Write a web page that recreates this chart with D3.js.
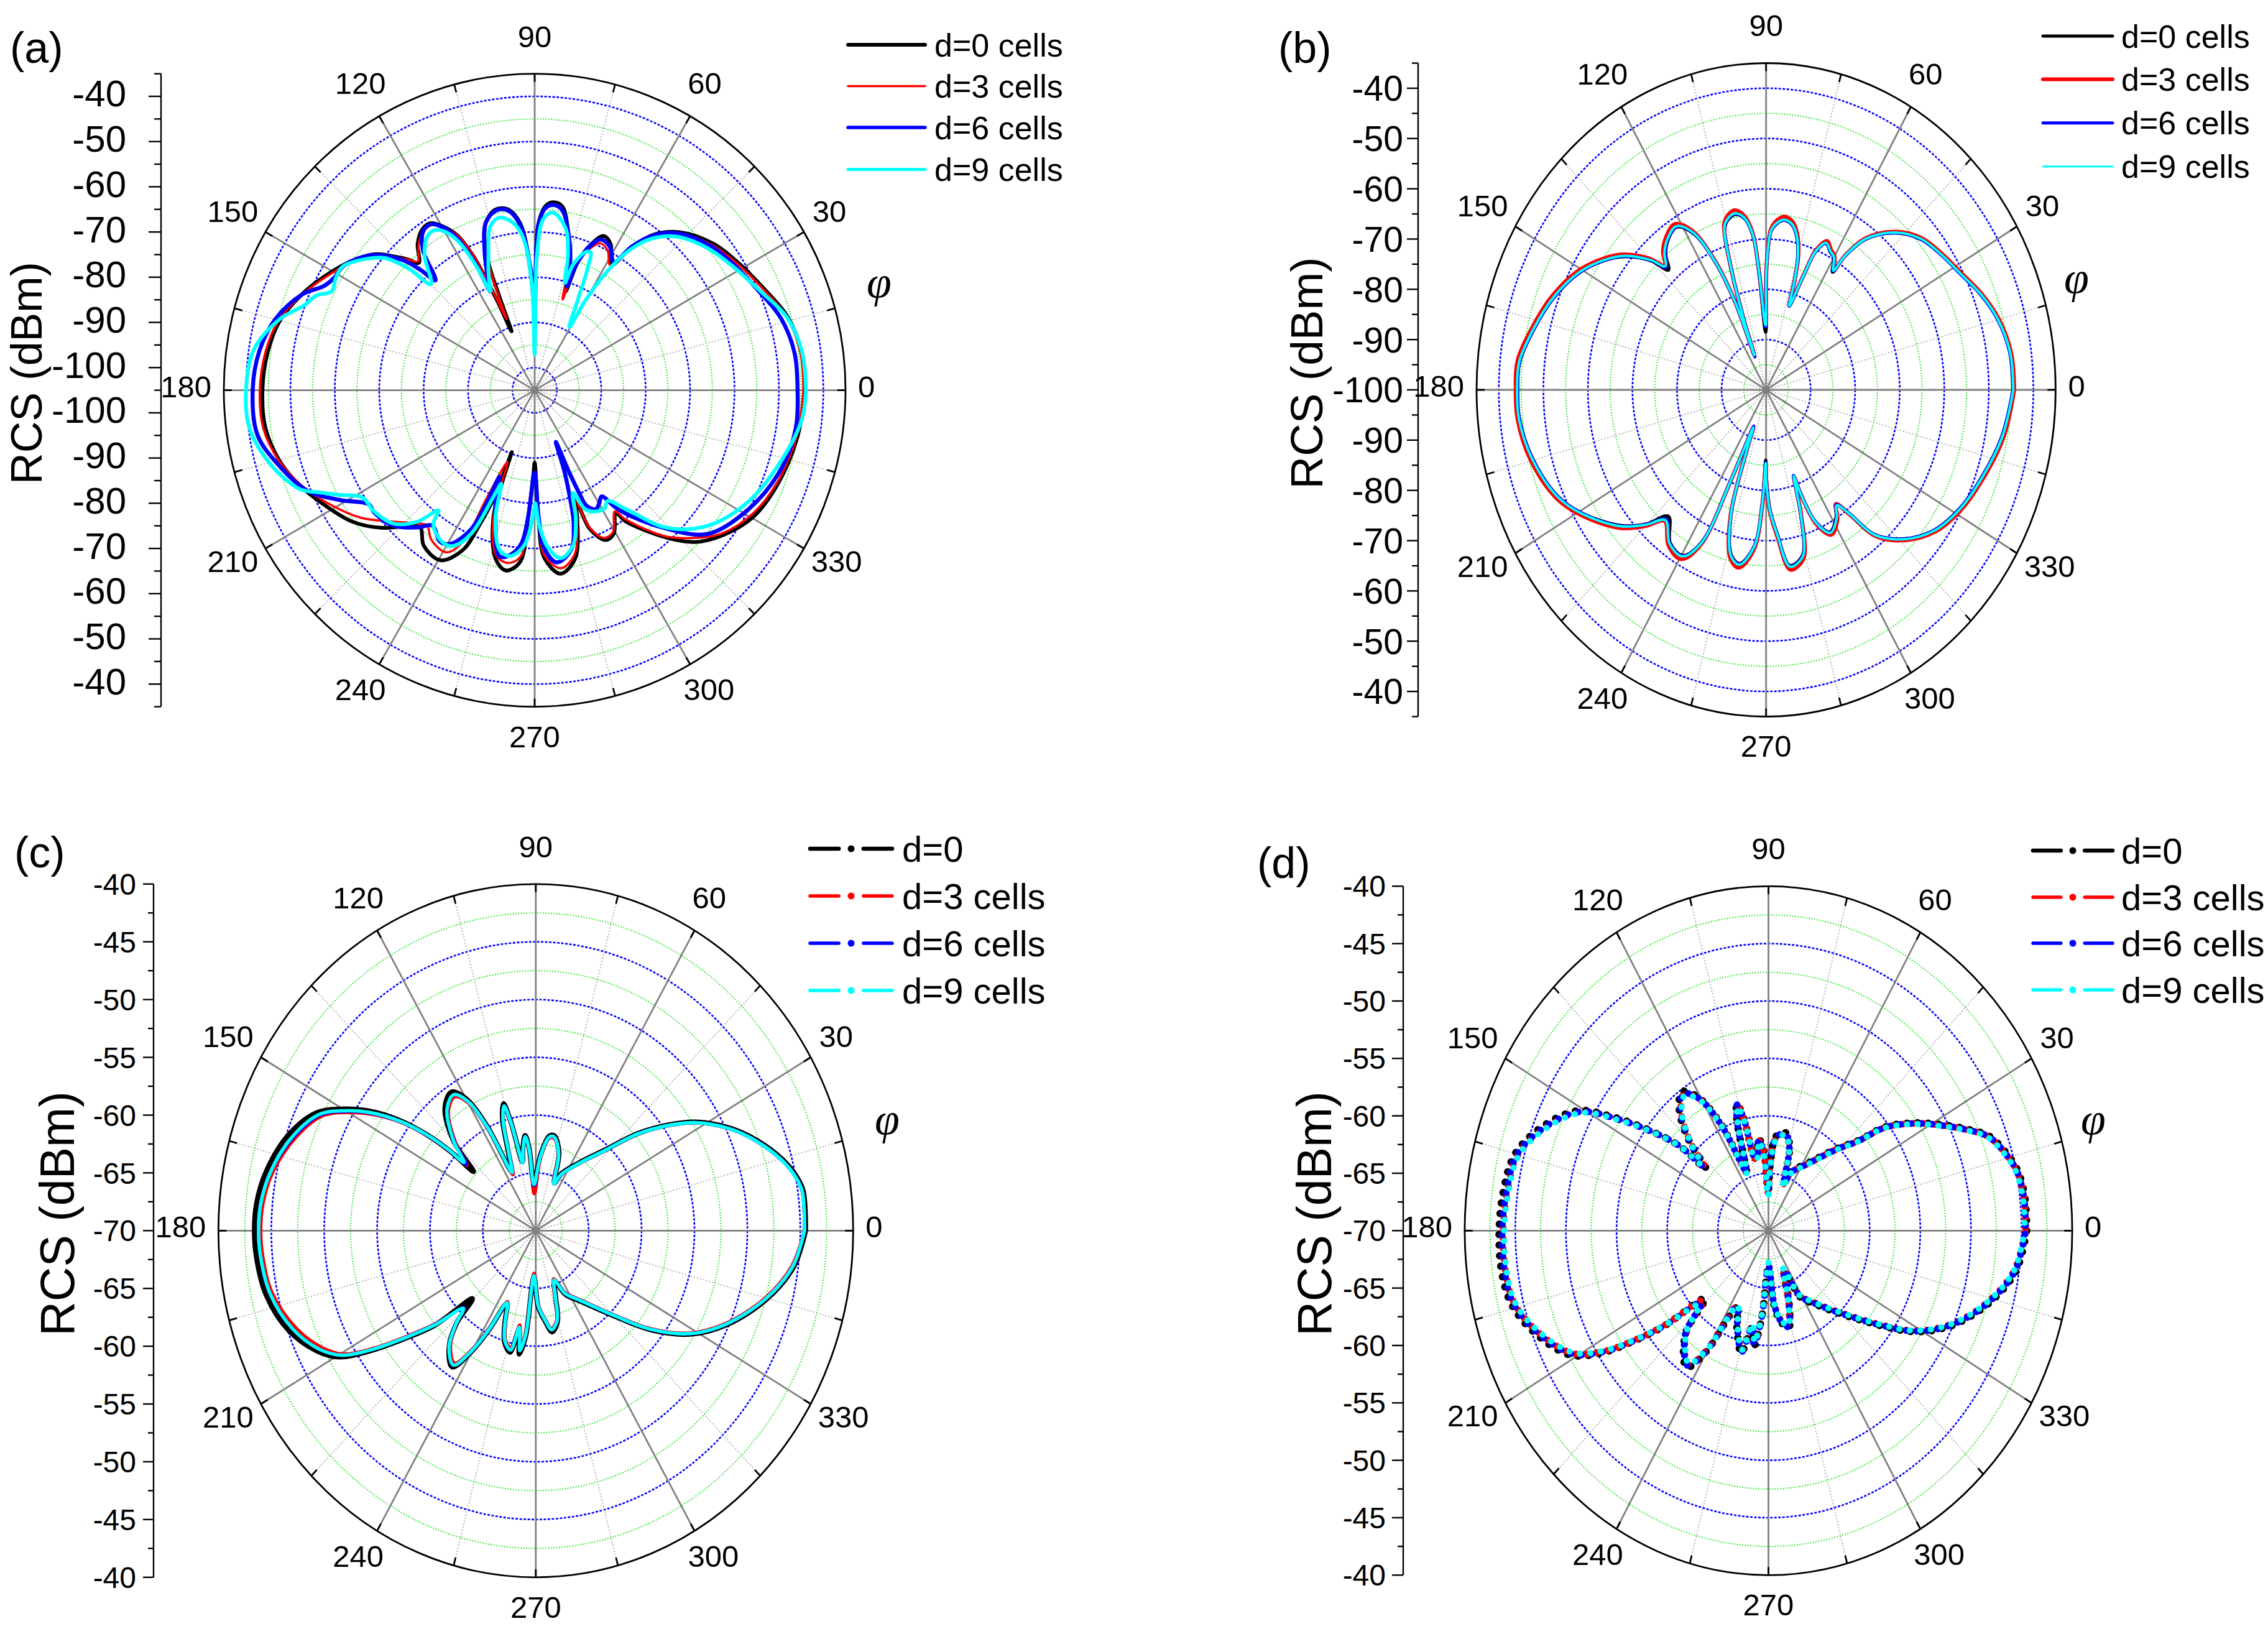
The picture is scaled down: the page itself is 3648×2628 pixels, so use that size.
<!DOCTYPE html>
<html><head><meta charset="utf-8">
<script src="https://cdn.jsdelivr.net/npm/d3@7"></script>
<style>body{margin:0;background:#fff}</style>
</head><body>
<svg id="chart" width="3648" height="2628" xmlns="http://www.w3.org/2000/svg"></svg>
<script>
// ---------------- DATA ----------------
const seriesNamesAB = ["d=0 cells","d=3 cells","d=6 cells","d=9 cells"];
const seriesNamesCD = ["d=0","d=3 cells","d=6 cells","d=9 cells"];
const seriesColors = ["#000000","#ff0000","#0000ff","#00ffff"];
const panelLetters = ["(a)","(b)","(c)","(d)"];
const angleTicks = [0,30,60,90,120,150,180,210,240,270,300,330];
const angleMinor = [15,45,75,105,135,165,195,225,255,285,315,345];
const axisTitle = "RCS (dBm)";
const angleTitle = "\u03C6";

const radialDomainA = [-105,-35];
const radialTicksA = [-100,-90,-80,-70,-60,-50,-40];
const radialMinorA = [-105,-95,-85,-75,-65,-55,-45,-35];
const blueRingsA = [-100,-90,-80,-70,-60,-50,-40];
const greenRingsA = [-95,-85,-75,-65,-55,-45];

const radialDomainB = [-100,-35];
const radialTicksB = [-100,-90,-80,-70,-60,-50,-40];
const radialMinorB = [-95,-85,-75,-65,-55,-45,-35];
const blueRingsB = [-90,-80,-70,-60,-50,-40];
const greenRingsB = [-95,-85,-75,-65,-55,-45];

const radialDomainCD = [-70,-40];
const radialTicksCD = [-70,-65,-60,-55,-50,-45,-40];
const radialMinorCD = [-67.5,-62.5,-57.5,-52.5,-47.5,-42.5];
const blueRingsCD = [-65,-60,-55,-50,-45];
const greenRingsCD = [-67.5,-62.5,-57.5,-52.5,-47.5,-42.5];

// panel (a): [angle deg, RCS dBm]
const a_d0 = [[0,-44.2],[8,-44.3],[16,-45.8],[23,-48.5],[32,-51.3],[39,-53.4],[47,-57.2],[52,-61.3],[55.5,-66.9],[58,-72.2],[62,-68.5],[65.5,-67.5],[68.5,-70.3],[71,-74.5],[72.3,-82],[74.5,-75.3],[77,-70.9],[81,-64.1],[83.5,-63.2],[86.3,-64],[88.7,-68.2],[90,-88],[92,-79],[95,-68],[98.6,-64.5],[102.5,-64.1],[106.8,-66.6],[110,-74],[111,-83],[111.8,-91],[113,-84],[114,-78],[115,-72],[117,-66.5],[119.5,-63.5],[122.5,-61.2],[125.6,-61.4],[129.2,-63.3],[132.8,-66.6],[134.5,-64.5],[136.4,-62.3],[140,-58.2],[145,-55],[150.8,-52],[157.9,-48.5],[165,-45.6],[172,-44.3],[180,-43.7],[187.8,-43.8],[195,-45.4],[201.6,-48],[208,-51.2],[215.3,-54.7],[221.3,-58.9],[227.7,-64.5],[229.8,-65.2],[234,-62.5],[240.5,-61.8],[245.4,-66.1],[247.3,-72.5],[249,-79.8],[249.4,-90.4],[250.2,-84],[251.7,-75.4],[256.6,-66.8],[260.7,-64.6],[265,-66.8],[267,-76.8],[269,-86],[270,-89],[271.7,-76.8],[273.4,-67.8],[278.2,-64],[283.8,-66.7],[288.8,-75.3],[291,-79.7],[292,-72],[295.8,-68.2],[299.3,-68.6],[303.9,-72.2],[305.3,-69.4],[312.4,-60.8],[317.2,-55.6],[323,-51.8],[330.2,-48.4],[339,-46.5],[350.3,-44.9],[360,-44.2]];
const a_d3 = [[0,-44.5],[8,-44.6],[16,-46],[23,-48.7],[32,-51.6],[39,-53.8],[47,-57.5],[52,-61.6],[55.5,-67.2],[58.5,-72.5],[62,-70],[65.5,-69.3],[68.5,-71.5],[71.3,-76],[72.6,-84],[74.5,-76],[77,-71.2],[81,-64.6],[83.5,-63.6],[86.3,-64.4],[88.7,-68.6],[90,-88],[92,-79],[95,-68.3],[98.6,-64.6],[102.3,-64.4],[106.8,-66.5],[110,-73.5],[111.3,-82],[112,-88],[113,-83],[114,-77.5],[115,-71.5],[117,-66.5],[119.5,-63.8],[122.5,-61.6],[125.6,-61.8],[129.2,-63.6],[132.8,-66.2],[134.5,-64.5],[136.4,-62.5],[140,-58.5],[145,-55.3],[150.8,-52.3],[157.9,-48.6],[165,-45.3],[172,-43.8],[180,-43.1],[187.8,-43.3],[195,-45.3],[201.6,-48.3],[207.3,-51.6],[215.7,-56.7],[222.4,-61.9],[228.8,-65.8],[231,-66.5],[235,-64.5],[241,-64],[244.3,-67.8],[245.7,-79],[248.8,-88],[250.2,-83],[251.7,-75.5],[256.6,-67.5],[261,-66.3],[265,-68],[267,-77],[269,-85],[270,-86],[271.7,-77],[273.4,-68.5],[278.5,-65.2],[283.8,-67.5],[288.8,-75.5],[291,-80],[292,-72.5],[295.5,-68.8],[299.3,-69],[304,-72.7],[305.5,-70],[312.4,-61.2],[318,-56.2],[323,-52.3],[331,-48.8],[339,-46.8],[350.3,-45.1],[360,-44.5]];
const a_d6 = [[0,-45.8],[8,-45.9],[16,-47.3],[23,-49.8],[32,-52.3],[39,-54.2],[47,-57.6],[52,-61.5],[55.5,-66.5],[57.8,-71.5],[62,-69],[66,-68.5],[69,-71.2],[71.5,-76],[72.5,-81],[74.5,-75],[77,-70.5],[81,-64.8],[83.8,-63.8],[86.5,-64.6],[88.7,-68.5],[90,-84],[92,-78],[95,-68.5],[98.6,-64.8],[102.3,-64.3],[106.5,-66.3],[110,-72],[112.5,-77],[114.5,-81],[115.5,-74],[117.5,-67],[120,-63.3],[122.5,-61.5],[125.5,-61.8],[129,-65],[132.6,-72],[134,-68],[136,-63.5],[140.5,-58],[145,-55],[148,-53.8],[151,-53.5],[154,-52.3],[158,-48.5],[165,-44.5],[172,-42.4],[180,-41.5],[189,-41.8],[196,-45],[203.5,-49.2],[209,-54.9],[214,-59.9],[217.1,-59.9],[223.3,-61.3],[229,-64.8],[232.4,-67.2],[237.6,-65.3],[240.9,-66.1],[245,-71],[246.5,-77],[247.5,-84.3],[249,-81],[250.2,-79],[252.6,-75.5],[257.8,-67.4],[261.9,-68.4],[265,-71],[267,-76.9],[270,-86.8],[271.8,-77],[273.5,-70],[277.4,-66.6],[283,-68.7],[286.5,-74],[288.5,-80],[290.5,-86],[292.6,-92.6],[293.2,-85],[293.8,-80],[294.5,-77],[297.5,-75.3],[300,-76],[302.7,-77.1],[305,-73.5],[307,-70.8],[314,-62.5],[320.8,-54.7],[331.4,-50.1],[342.7,-46.8],[352,-45.6],[360,-45.8]];
const a_d9 = [[0,-43.9],[8,-44.2],[16,-46],[23,-49.5],[32,-52.8],[39,-55],[47,-58.5],[52,-62.5],[55.5,-67.5],[58.3,-74.5],[60,-81.5],[60.8,-89],[64,-83],[66,-76],[67.6,-72],[69.5,-72.4],[72.7,-75.9],[74,-80.3],[76,-74],[79,-68.5],[84,-65.5],[87,-67],[89,-75],[90,-97],[91.5,-82],[94,-72],[97,-68],[101.7,-66],[105.5,-67.5],[109,-73],[112.5,-78],[114.5,-81],[115.5,-75],[117.5,-68],[120,-64.5],[122.6,-63],[126,-63.5],[130,-66.5],[134.9,-71.9],[136.5,-66],[139,-60.5],[142.2,-57.5],[147.8,-53.8],[151,-53.8],[154.4,-54.3],[157,-51.5],[160,-49.9],[164.8,-45.4],[172,-41.1],[180,-40],[187.3,-40.2],[195.4,-43.3],[202.4,-47.7],[205,-51.5],[207.9,-55.5],[211.4,-59.5],[216.4,-60],[222.8,-61.6],[227.8,-65.8],[230.8,-70.7],[232.5,-67.5],[238.2,-65.5],[241.8,-65.9],[245.7,-70.1],[248.8,-80.6],[250,-83],[252.6,-75.5],[257.4,-68.8],[261.3,-67.9],[266,-70.5],[269.5,-77.8],[270.3,-80],[272,-75],[275,-70],[279,-67.4],[284,-69.5],[288,-75],[290.8,-80.7],[293.4,-76.3],[297,-74.9],[301,-74.5],[303.8,-75.5],[308,-71.6],[314.4,-62.4],[322.5,-55.8],[333,-50.9],[344.4,-47.3],[353.8,-44.5],[360,-43.9]];

// panel (b)
const b_d0 = [[0,-44.5],[7.6,-44.7],[15.1,-46.1],[21.6,-48.2],[28.2,-50.7],[33.9,-52.2],[40.7,-54.1],[47,-57.3],[53.2,-62.5],[56.4,-68.1],[57.5,-72.2],[60,-69.6],[62.3,-69],[65.2,-67.9],[68,-70.4],[69.8,-76.1],[72.7,-82.5],[73.6,-77.5],[75,-72.5],[77.5,-68.5],[80,-66.6],[83.3,-66],[86,-66.9],[88,-68.4],[89.8,-76],[90.5,-88.5],[94,-76],[95.5,-69.2],[98,-65.6],[101.2,-64.4],[104,-65],[106,-66.3],[108,-74.8],[109.7,-85.2],[111,-92.4],[111.7,-81.4],[114.3,-71.8],[117.7,-64.8],[121.8,-61.9],[126.4,-62.9],[130,-64.9],[132.6,-67.6],[135.1,-63.6],[139.9,-58.8],[144.6,-55.5],[151,-52],[159,-48.9],[166.6,-46.6],[174.2,-44.4],[180,-44.2],[185.8,-44.3],[194.6,-45.8],[204.5,-48.7],[211,-52.1],[219.8,-57.8],[224.9,-62.2],[228.9,-66.6],[234.7,-62.7],[240.4,-62.1],[244.5,-66.4],[246.3,-80.5],[249,-92],[250,-88],[252.3,-74.2],[256.6,-66.2],[260.2,-64.9],[265,-68.6],[268,-78],[269.7,-86],[270.1,-82.5],[272,-76.2],[275,-71.2],[278.7,-64.6],[284,-66.1],[287.5,-74.2],[289.9,-81.8],[290.5,-78.4],[292.9,-71.5],[296.9,-68.3],[301.9,-70.2],[304.6,-72.3],[307.2,-69.1],[310.2,-62.3],[316.3,-57.1],[323.4,-53.1],[331.2,-50.6],[339.6,-48.7],[349.8,-46.3],[360,-44.5]];
const b_d3 = [[0,-44.3],[7.6,-44.5],[15.1,-45.9],[21.6,-48],[28.2,-50.5],[33.9,-52],[40.7,-53.8],[47,-57],[53.2,-62.2],[56.4,-67.8],[57.5,-71.6],[60,-69.3],[62.3,-68.6],[65.2,-67.4],[68,-70],[69.8,-75.8],[72.7,-82.3],[73.6,-77.2],[75,-72],[77.5,-68],[80,-66],[83.3,-65.3],[86,-66.3],[88,-68],[89.8,-75.6],[90.5,-87],[94,-75.6],[95.5,-68.7],[98,-65.1],[101.2,-63.6],[104,-64.3],[106,-65.8],[108,-74.4],[109.7,-85],[111,-92.4],[111.7,-81],[114.3,-71.3],[117.7,-64.2],[121.8,-61.2],[126.4,-62.2],[130,-64],[132.6,-66.4],[135.1,-63],[139.9,-58.2],[144.6,-55],[151,-51.5],[159,-48.4],[166.6,-46.1],[174.2,-43.9],[180,-43.8],[185.8,-43.9],[194.6,-45.3],[204.5,-48.2],[211,-51.6],[219.8,-57.1],[224.9,-61.6],[228.9,-65.4],[234.7,-62.1],[240.4,-61.3],[244.5,-65.8],[246.3,-80.2],[249,-92],[250,-88],[252.3,-73.8],[256.6,-65.5],[260.2,-64.1],[265,-68],[268,-77.6],[269.7,-85.2],[270.1,-82],[272,-75.8],[275,-70.6],[278.7,-63.8],[284,-65.4],[287.5,-73.8],[289.9,-81.6],[290.5,-78.1],[292.9,-71],[296.9,-67.7],[301.9,-69.7],[304.6,-72.4],[307.2,-68.7],[310.2,-61.9],[316.3,-56.7],[323.4,-52.7],[331.2,-50.2],[339.6,-48.3],[349.8,-45.9],[360,-44.3]];
const b_d6 = [[0,-44.6],[7.6,-44.8],[15.1,-46.2],[21.6,-48.3],[28.2,-50.8],[33.9,-52.3],[40.7,-54.1],[47,-57.3],[53.2,-62.5],[56.4,-68.1],[57.5,-72],[60,-69.6],[62.3,-69],[65.2,-67.9],[68,-70.4],[69.8,-76.1],[72.7,-82.6],[73.6,-77.5],[75,-72.5],[77.5,-68.5],[80,-66.6],[83.3,-66],[86,-66.9],[88,-68.4],[89.8,-75.9],[90.5,-87.5],[94,-75.9],[95.5,-69.1],[98,-65.6],[101.2,-64.3],[104,-64.9],[106,-66.2],[108,-74.7],[109.7,-85.3],[111,-93],[111.7,-81.3],[114.3,-71.7],[117.7,-64.7],[121.8,-61.8],[126.4,-62.8],[130,-64.7],[132.6,-66.9],[135.1,-63.5],[139.9,-58.7],[144.6,-55.5],[151,-52],[159,-48.9],[166.6,-46.6],[174.2,-44.4],[180,-44.2],[185.8,-44.3],[194.6,-45.8],[204.5,-48.7],[211,-52.1],[219.8,-57.7],[224.9,-62.1],[228.9,-65.9],[234.7,-62.6],[240.4,-62],[244.5,-66.3],[246.3,-80.5],[249,-92.3],[250,-88.2],[252.3,-74.2],[256.6,-66.1],[260.2,-64.8],[265,-68.6],[268,-78],[269.7,-85.6],[270.1,-82.2],[272,-76.1],[275,-71.1],[278.7,-64.5],[284,-66],[287.5,-74.2],[289.9,-81.9],[290.5,-78.4],[292.9,-71.5],[296.9,-68.2],[301.9,-70.1],[304.6,-72.2],[307.2,-69.1],[310.2,-62.3],[316.3,-57.1],[323.4,-53.1],[331.2,-50.6],[339.6,-48.7],[349.8,-46.3],[360,-44.6]];
const b_d9 = [[0,-44.5],[7.6,-44.7],[15.1,-46.1],[21.6,-48.2],[28.2,-50.7],[33.9,-52.2],[40.7,-54],[47,-57.2],[53.2,-62.4],[56.4,-68],[57.5,-71.9],[60,-69.5],[62.3,-68.9],[65.2,-67.8],[68,-70.3],[69.8,-76],[72.7,-82.5],[73.6,-77.4],[75,-72.4],[77.5,-68.4],[80,-66.5],[83.3,-65.9],[86,-66.8],[88,-68.3],[89.8,-75.8],[90.5,-87.2],[94,-75.8],[95.5,-69],[98,-65.5],[101.2,-64.2],[104,-64.8],[106,-66.1],[108,-74.6],[109.7,-85.1],[111,-92.6],[111.7,-81.2],[114.3,-71.6],[117.7,-64.6],[121.8,-61.7],[126.4,-62.7],[130,-64.5],[132.6,-66.6],[135.1,-63.4],[139.9,-58.6],[144.6,-55.4],[151,-51.9],[159,-48.8],[166.6,-46.5],[174.2,-44.3],[180,-44.1],[185.8,-44.2],[194.6,-45.7],[204.5,-48.6],[211,-52],[219.8,-57.6],[224.9,-62],[228.9,-65.6],[234.7,-62.5],[240.4,-61.9],[244.5,-66.2],[246.3,-80.4],[249,-92],[250,-88],[252.3,-74.1],[256.6,-66],[260.2,-64.7],[265,-68.5],[268,-77.9],[269.7,-85.4],[270.1,-82],[272,-76],[275,-71],[278.7,-64.4],[284,-65.9],[287.5,-74.1],[289.9,-81.8],[290.5,-78.3],[292.9,-71.4],[296.9,-68.1],[301.9,-70],[304.6,-72.1],[307.2,-69],[310.2,-62.2],[316.3,-57],[323.4,-53],[331.2,-50.5],[339.6,-48.6],[349.8,-46.2],[360,-44.5]];

// panel (c)
const c_d0 = [[0,-44.5],[7.9,-44.5],[11.7,-45.1],[16.2,-46.3],[22,-48.2],[26.3,-49.8],[31.9,-52.2],[36,-54.4],[41.1,-57.2],[46.6,-60.3],[55,-62.8],[63.9,-64.5],[67,-65.5],[72,-62.9],[78,-61.6],[81,-61.7],[86,-63.4],[92.5,-65.8],[95,-62.9],[97,-61.7],[100,-62.9],[102,-63.9],[104,-60.4],[105.5,-58.6],[108,-59.8],[111,-62.8],[114,-64.4],[117,-59.8],[120,-56.8],[123.5,-55.6],[128.8,-56.3],[135,-59],[139,-62.2],[139.6,-59.5],[141.1,-56.8],[143.6,-53.8],[147,-50.9],[149.9,-49],[153.8,-46.9],[160.5,-45.2],[168.7,-44],[174.9,-43.5],[180,-43.4],[185.1,-43.5],[192.2,-43.9],[200.3,-45.1],[206.6,-46.8],[210.4,-48.4],[213.7,-51.3],[216.8,-54.3],[220.6,-57.4],[224.5,-61.6],[227,-59],[230.9,-57],[236.2,-55.8],[239.7,-57.8],[242.7,-60.3],[246.5,-63.1],[250,-61.4],[253,-59.9],[257,-59.2],[259.5,-61.3],[261.7,-59.2],[264,-60.8],[267.5,-66],[272,-63.4],[276.5,-62.1],[280,-61.1],[284.7,-61.9],[288,-63.9],[292,-65.3],[297,-63.8],[304,-62.7],[315.4,-59.4],[321.8,-56.1],[328.6,-52.8],[335.7,-50.2],[345.1,-47.3],[352.8,-45.4],[360,-44.5]];
const c_d3 = [[0,-44.6],[7.9,-44.6],[11.7,-45.2],[16.2,-46.4],[22,-48.3],[26.3,-49.9],[31.9,-52.3],[36,-54.5],[41.1,-57.3],[46.6,-60.4],[55,-62.9],[63.9,-64.6],[67,-65.6],[72,-63],[78,-61.8],[81,-61.9],[86,-63.7],[92.5,-66.8],[95,-63.2],[97,-61.9],[100,-63],[102,-64],[104,-60.6],[105.5,-58.9],[108,-60.1],[111,-63.1],[114,-64.7],[117,-60.2],[120,-57.2],[123.5,-56.1],[128.8,-56.8],[135,-59.3],[139,-61.4],[139.6,-59.5],[141.1,-57],[143.6,-54.2],[147,-51.5],[149.9,-49.6],[153.8,-47.5],[160.5,-45.9],[168.7,-44.6],[174.9,-44.1],[180,-44],[185.1,-44.1],[192.2,-44.5],[200.3,-45.8],[206.6,-47.4],[210.4,-48.9],[213.7,-51.7],[216.8,-54.7],[220.6,-57.7],[224.5,-60.5],[227,-59],[230.9,-57.2],[236.2,-56.2],[239.7,-58.1],[242.7,-60.5],[246.5,-63.3],[250,-61.6],[253,-60.1],[257,-59.6],[259.5,-61.7],[261.7,-59.7],[264,-61.2],[267.5,-66.3],[272,-63.6],[276.5,-62.3],[280,-61.4],[284.7,-62.1],[288,-64.1],[292,-65.5],[297,-64],[304,-62.9],[315.4,-59.6],[321.8,-56.3],[328.6,-53],[335.7,-50.4],[345.1,-47.5],[352.8,-45.6],[360,-44.6]];
const c_d6 = [[0,-44.6],[7.9,-44.6],[11.7,-45.2],[16.2,-46.4],[22,-48.3],[26.3,-49.9],[31.9,-52.3],[36,-54.5],[41.1,-57.3],[46.6,-60.4],[55,-62.9],[63.9,-64.6],[67,-65.6],[72,-63],[78,-61.7],[81,-61.8],[86,-63.5],[92.5,-66.1],[95,-63],[97,-61.8],[100,-63],[102,-64],[104,-60.5],[105.5,-58.8],[108,-60],[111,-63],[114,-64.5],[117,-60],[120,-57],[123.5,-55.9],[128.8,-56.6],[135,-59.1],[139,-61.3],[139.6,-59.4],[141.1,-56.9],[143.6,-54.1],[147,-51.3],[149.9,-49.4],[153.8,-47.3],[160.5,-45.7],[168.7,-44.4],[174.9,-43.9],[180,-43.8],[185.1,-43.9],[192.2,-44.3],[200.3,-45.5],[206.6,-47.1],[210.4,-48.7],[213.7,-51.5],[216.8,-54.5],[220.6,-57.6],[224.5,-60.5],[227,-58.9],[230.9,-57],[236.2,-56],[239.7,-57.9],[242.7,-60.4],[246.5,-63.2],[250,-61.5],[253,-60],[257,-59.4],[259.5,-61.5],[261.7,-59.5],[264,-61],[267.5,-66.1],[272,-63.5],[276.5,-62.2],[280,-61.3],[284.7,-62],[288,-64],[292,-65.4],[297,-63.9],[304,-62.8],[315.4,-59.5],[321.8,-56.2],[328.6,-52.9],[335.7,-50.3],[345.1,-47.4],[352.8,-45.5],[360,-44.6]];
const c_d9 = [[0,-44.6],[7.9,-44.6],[11.7,-45.2],[16.2,-46.4],[22,-48.3],[26.3,-49.9],[31.9,-52.3],[36,-54.5],[41.1,-57.3],[46.6,-60.4],[55,-62.9],[63.9,-64.6],[67,-65.6],[72,-63],[78,-61.7],[81,-61.8],[86,-63.5],[92.5,-66],[95,-63],[97,-61.8],[100,-63],[102,-64],[104,-60.5],[105.5,-58.8],[108,-60],[111,-63],[114,-64.5],[117,-60],[120,-57],[123.5,-55.9],[128.8,-56.6],[135,-59],[139,-61],[139.6,-59.3],[141.1,-56.8],[143.6,-54],[147,-51.2],[149.9,-49.3],[153.8,-47.2],[160.5,-45.6],[168.7,-44.4],[174.9,-43.9],[180,-43.8],[185.1,-43.9],[192.2,-44.3],[200.3,-45.5],[206.6,-47.1],[210.4,-48.7],[213.7,-51.5],[216.8,-54.5],[220.6,-57.5],[224.5,-60.4],[227,-58.9],[230.9,-57],[236.2,-56],[239.7,-57.9],[242.7,-60.4],[246.5,-63.2],[250,-61.5],[253,-60],[257,-59.4],[259.5,-61.5],[261.7,-59.5],[264,-61],[267.5,-66.1],[272,-63.5],[276.5,-62.2],[280,-61.3],[284.7,-62],[288,-64],[292,-65.4],[297,-63.9],[304,-62.8],[315.4,-59.5],[321.8,-56.2],[328.6,-52.9],[335.7,-50.3],[345.1,-47.4],[352.8,-45.5],[360,-44.6]];

// panel (d)
const d_d0 = [[0,-44.5],[6.2,-44.5],[11.7,-44.8],[15.8,-45.5],[20.7,-46.7],[24.3,-48.5],[28,-50.4],[32.7,-52.6],[38,-55.3],[41.4,-58.1],[46.7,-60.2],[55.8,-62.8],[66.4,-64.4],[69.3,-65.5],[74,-62.4],[78.7,-61.3],[84.5,-61.7],[88,-63.9],[90.5,-66.5],[94,-62.9],[97,-61.9],[100,-63.4],[102,-63.4],[104,-59.9],[105.7,-58.5],[108,-59.9],[111,-63.4],[113,-64.4],[117,-59.4],[121,-56.4],[125.2,-55.2],[130,-56.3],[135,-58.9],[138.9,-61.8],[140,-58.5],[143.2,-55.5],[147,-51.9],[150.9,-48.5],[157.9,-45.9],[165,-44.1],[172.3,-43.6],[180,-43.4],[187.7,-43.4],[194,-43.8],[200.9,-45.2],[208.9,-47.6],[212.8,-50.3],[215.8,-53.5],[218.9,-56.8],[223.3,-61.4],[227.7,-57.8],[235.8,-55.6],[239.6,-57.7],[245,-62.6],[250,-60.9],[255.9,-59],[259,-61.4],[262,-59.9],[265,-62.4],[270,-66.8],[275,-63.4],[279,-61.9],[283.3,-61.3],[288,-63.4],[293.8,-66.1],[298.6,-63.4],[305.3,-62.2],[313.4,-60.2],[323.4,-56.1],[329,-52.9],[335.7,-50],[343.9,-47.3],[351.8,-45.3],[360,-44.5]];
const d_d3 = [[0,-44.6],[6.2,-44.6],[11.7,-44.9],[15.8,-45.6],[20.7,-46.8],[24.3,-48.6],[28,-50.5],[32.7,-52.7],[38,-55.4],[41.4,-58.2],[46.7,-60.3],[55.8,-62.9],[66.4,-64.5],[69.3,-65.7],[74,-62.6],[78.7,-61.5],[84.5,-61.9],[88,-64.1],[90.5,-66.7],[94,-63.1],[97,-62.1],[100,-63.6],[102,-63.6],[104,-60.1],[105.7,-58.7],[108,-60.1],[111,-63.6],[113,-64.6],[117,-59.6],[121,-56.6],[125.2,-55.5],[130,-56.6],[135,-59.1],[138.9,-61.7],[140,-58.6],[143.2,-55.7],[147,-52.2],[150.9,-48.8],[157.9,-46.2],[165,-44.4],[172.3,-44],[180,-43.8],[187.7,-43.8],[194,-44.1],[200.9,-45.5],[208.9,-47.9],[212.8,-50.6],[215.8,-53.7],[218.9,-57],[223.3,-61.2],[227.7,-57.9],[235.8,-55.9],[239.6,-57.9],[245,-62.8],[250,-61.1],[255.9,-59.2],[259,-61.6],[262,-60.1],[265,-62.6],[270,-67],[275,-63.6],[279,-62.1],[283.3,-61.5],[288,-63.6],[293.8,-66.3],[298.6,-63.6],[305.3,-62.4],[313.4,-60.4],[323.4,-56.3],[329,-53.1],[335.7,-50.2],[343.9,-47.5],[351.8,-45.5],[360,-44.6]];
const d_d6 = [[0,-44.6],[6.2,-44.6],[11.7,-44.9],[15.8,-45.6],[20.7,-46.8],[24.3,-48.6],[28,-50.5],[32.7,-52.7],[38,-55.4],[41.4,-58.2],[46.7,-60.3],[55.8,-62.9],[66.4,-64.5],[69.3,-65.6],[74,-62.5],[78.7,-61.4],[84.5,-61.8],[88,-64],[90.5,-66.6],[94,-63],[97,-62],[100,-63.5],[102,-63.5],[104,-60],[105.7,-58.6],[108,-60],[111,-63.5],[113,-64.5],[117,-59.5],[121,-56.5],[125.2,-55.4],[130,-56.5],[135,-59],[138.9,-61.4],[140,-58.5],[143.2,-55.6],[147,-52.1],[150.9,-48.7],[157.9,-46.1],[165,-44.3],[172.3,-43.9],[180,-43.7],[187.7,-43.7],[194,-44],[200.9,-45.4],[208.9,-47.8],[212.8,-50.5],[215.8,-53.6],[218.9,-56.9],[223.3,-60.9],[227.7,-57.8],[235.8,-55.8],[239.6,-57.8],[245,-62.7],[250,-61],[255.9,-59.1],[259,-61.5],[262,-60],[265,-62.5],[270,-66.9],[275,-63.5],[279,-62],[283.3,-61.4],[288,-63.5],[293.8,-66.2],[298.6,-63.5],[305.3,-62.3],[313.4,-60.3],[323.4,-56.2],[329,-53],[335.7,-50.1],[343.9,-47.4],[351.8,-45.4],[360,-44.6]];
const d_d9 = [[0,-44.7],[6.2,-44.7],[11.7,-45],[15.8,-45.7],[20.7,-46.9],[24.3,-48.7],[28,-50.6],[32.7,-52.8],[38,-55.5],[41.4,-58.3],[46.7,-60.4],[55.8,-63],[66.4,-64.6],[69.3,-66],[74,-62.6],[78.7,-61.5],[84.5,-62],[88,-64.3],[90.5,-67],[94,-63.2],[97,-62.2],[100,-63.6],[102,-63.6],[104,-60.2],[105.7,-58.8],[108,-60.2],[111,-63.6],[113,-64.6],[117,-59.7],[121,-56.7],[125.2,-55.6],[130,-56.7],[135,-59.1],[138.9,-61.2],[140,-58.6],[143.2,-55.7],[147,-52.3],[150.9,-48.9],[157.9,-46.3],[165,-44.5],[172.3,-44.1],[180,-43.9],[187.7,-43.9],[194,-44.2],[200.9,-45.6],[208.9,-48],[212.8,-50.7],[215.8,-53.8],[218.9,-57],[223.3,-60.6],[227.7,-57.9],[235.8,-56],[239.6,-58],[245,-62.8],[250,-61.1],[255.9,-59.3],[259,-61.7],[262,-60.2],[265,-62.7],[270,-67.2],[275,-63.6],[279,-62.1],[283.3,-61.5],[288,-63.6],[293.8,-66.4],[298.6,-63.6],[305.3,-62.4],[313.4,-60.4],[323.4,-56.3],[329,-53.1],[335.7,-50.2],[343.9,-47.5],[351.8,-45.5],[360,-44.7]];

// ---------------- LAYOUT ----------------
const FONT = "'Liberation Sans', Arial, Helvetica, sans-serif";
const panels = [
  {letter:panelLetters[0], cx:860, cy:627.6, rx:500, ry:509, domain:radialDomainA, ticks:radialTicksA, minor:radialMinorA,
   blue:blueRingsA, green:greenRingsA, axisX:259, tickLen:20, minorLen:11, labelRight:203, tickFont:60, labelDy:-5,
   letterXY:[16,101], rcs:[67,600,70], phi:[1414,478], names:seriesNamesAB, data:[a_d0,a_d3,a_d6,a_d9],
   style:"solid", widths:[6,3.5,6.5,6],
   legend:{x1:1364,x2:1488,tx:1503,rows:[72,138.6,205,272.5],font:52,widths:[6,3.5,5.5,5],kind:"solid"}},
  {letter:panelLetters[1], cx:2840.7, cy:627, rx:465.7, ry:525.5, domain:radialDomainB, ticks:radialTicksB, minor:radialMinorB,
   blue:blueRingsB, green:greenRingsB, axisX:2281, tickLen:18, minorLen:10, labelRight:2257, tickFont:57, labelDy:0,
   letterXY:[2056,101], rcs:[2127,600,73], phi:[3340,471], names:seriesNamesAB, data:[b_d0,b_d3,b_d6,b_d9],
   style:"solid", widths:[5.5,6.5,5,4],
   legend:{x1:3286,x2:3398,tx:3412,rows:[58,127.5,197.7,267.8],font:52,widths:[5,6,5,3],kind:"solid"}},
  {letter:panelLetters[2], cx:861.8, cy:1979.3, rx:510.5, ry:557.5, domain:radialDomainCD, ticks:radialTicksCD, minor:radialMinorCD,
   blue:blueRingsCD, green:greenRingsCD, axisX:247, tickLen:17, minorLen:9, labelRight:219, tickFont:48, labelDy:0,
   letterXY:[23,1395], rcs:[119,1952,77], phi:[1427,1824], names:seriesNamesCD, data:[c_d0,c_d3,c_d6,c_d9],
   style:"solid", widths:[8,5.5,5.5,5.5],
   legend:{x1:1303,x2:1435,tx:1451,rows:[1365,1441,1517,1593],font:58,widths:[6.5,5.5,5.5,5.5],kind:"dashdot"}},
  {letter:panelLetters[3], cx:2844.5, cy:1979.3, rx:488.6, ry:554, domain:radialDomainCD, ticks:radialTicksCD, minor:radialMinorCD,
   blue:blueRingsCD, green:greenRingsCD, axisX:2257, tickLen:18, minorLen:9, labelRight:2229, tickFont:48, labelDy:0,
   letterXY:[2022,1412], rcs:[2141,1952,77], phi:[3367,1824], names:seriesNamesCD, data:[d_d0,d_d3,d_d6,d_d9],
   style:"dots", widths:[12,11,11,10],
   legend:{x1:3270,x2:3398,tx:3412,rows:[1368,1443,1517,1592],font:58,widths:[6.5,5.5,5.5,5.5],kind:"dashdot"}}
];

const svg = d3.select("#chart");
svg.append("rect").attr("width",3648).attr("height",2628).attr("fill","#ffffff");

function drawPanel(p){
  const g = svg.append("g");
  const r = d3.scaleLinear().domain(p.domain).range([0,1]).clamp(true);
  const ang = d3.scaleLinear().domain([0,360]).range([0,2*Math.PI]);
  const px = (deg,v)=> p.cx + p.rx*r(v)*Math.cos(ang(deg));
  const py = (deg,v)=> p.cy - p.ry*r(v)*Math.sin(ang(deg));
  const vmax = p.domain[1];

  // rings
  g.selectAll(null).data(p.green).join("ellipse")
    .attr("cx",p.cx).attr("cy",p.cy).attr("rx",v=>p.rx*r(v)).attr("ry",v=>p.ry*r(v))
    .attr("fill","none").attr("stroke","#00e000").attr("stroke-width",1.9).attr("stroke-dasharray","1.6 2.8");
  g.selectAll(null).data(p.blue).join("ellipse")
    .attr("cx",p.cx).attr("cy",p.cy).attr("rx",v=>p.rx*r(v)).attr("ry",v=>p.ry*r(v))
    .attr("fill","none").attr("stroke","#0000ff").attr("stroke-width",2.6).attr("stroke-dasharray","4 2.5");
  // spokes
  g.selectAll(null).data(angleMinor).join("line")
    .attr("x1",p.cx).attr("y1",p.cy).attr("x2",d=>px(d,vmax)).attr("y2",d=>py(d,vmax))
    .attr("stroke","#aaaaaa").attr("stroke-width",1.8).attr("stroke-dasharray","2 3");
  g.selectAll(null).data(angleTicks).join("line")
    .attr("x1",p.cx).attr("y1",p.cy).attr("x2",d=>px(d,vmax)).attr("y2",d=>py(d,vmax))
    .attr("stroke","#808080").attr("stroke-width",2.8);
  // outer boundary
  g.append("ellipse").attr("cx",p.cx).attr("cy",p.cy).attr("rx",p.rx).attr("ry",p.ry)
    .attr("fill","none").attr("stroke","#000").attr("stroke-width",2.8);
  // boundary ticks (inward)
  const allAng = angleTicks.concat(angleMinor);
  g.selectAll(null).data(allAng).join("line")
    .attr("x1",d=>px(d,vmax)).attr("y1",d=>py(d,vmax))
    .attr("x2",d=>{const x=px(d,vmax), y=py(d,vmax); const L=Math.hypot(p.cx-x,p.cy-y); return x+(p.cx-x)/L*13;})
    .attr("y2",d=>{const x=px(d,vmax), y=py(d,vmax); const L=Math.hypot(p.cx-x,p.cy-y); return y+(p.cy-y)/L*13;})
    .attr("stroke","#000").attr("stroke-width",2.8);

  // curves
  const line = d3.line().x(d=>px(d[0],d[1])).y(d=>py(d[0],d[1])).curve(d3.curveCatmullRom.alpha(0.5));
  p.data.forEach((ser,i)=>{
    const path = g.append("path").attr("d",line(ser)).attr("fill","none")
      .attr("stroke",seriesColors[i]).attr("stroke-width",p.widths[i])
      .attr("stroke-linejoin","round").attr("stroke-linecap","round");
    if(p.style==="dots"){
      path.attr("stroke-dasharray","0 17").attr("stroke-dashoffset",-i*4.2);
    }
  });

  // angular labels
  const fa = 49;
  g.selectAll(null).data(angleTicks).join("text")
    .attr("x",d=>{const w=String(d).length*0.556*fa; return px(d,vmax)+Math.cos(ang(d))*(20+w/2);})
    .attr("y",d=>py(d,vmax)-Math.sin(ang(d))*54-6.6+0.358*fa)
    .attr("text-anchor","middle").attr("font-family",FONT).attr("font-size",fa).attr("fill","#000")
    .text(d=>d);

  // left radial axis
  g.append("line").attr("x1",p.axisX).attr("x2",p.axisX).attr("y1",p.cy-p.ry).attr("y2",p.cy+p.ry)
    .attr("stroke","#000").attr("stroke-width",2.4);
  const both = vals => { const out=[]; vals.forEach(v=>{ const o=p.ry*r(v); if(o===0) out.push({v,y:p.cy}); else {out.push({v,y:p.cy-o}); out.push({v,y:p.cy+o});} }); return out; };
  g.selectAll(null).data(both(p.ticks)).join("line")
    .attr("x1",p.axisX-p.tickLen).attr("x2",p.axisX).attr("y1",d=>d.y).attr("y2",d=>d.y)
    .attr("stroke","#000").attr("stroke-width",2.4);
  g.selectAll(null).data(both(p.minor)).join("line")
    .attr("x1",p.axisX-p.minorLen).attr("x2",p.axisX).attr("y1",d=>d.y).attr("y2",d=>d.y)
    .attr("stroke","#000").attr("stroke-width",2.4);
  g.selectAll(null).data(both(p.ticks)).join("text")
    .attr("x",p.labelRight).attr("y",d=>d.y+0.358*p.tickFont+p.labelDy)
    .attr("text-anchor","end").attr("font-family",FONT).attr("font-size",p.tickFont).attr("fill","#000")
    .text(d=>String(d.v));

  // axis title
  g.append("text").attr("transform",`translate(${p.rcs[0]},${p.rcs[1]}) rotate(-90)`)
    .attr("text-anchor","middle").attr("font-family",FONT).attr("font-size",p.rcs[2]).attr("fill","#000")
    .text(axisTitle);
  // phi
  g.append("text").attr("x",p.phi[0]).attr("y",p.phi[1]).attr("text-anchor","middle")
    .attr("font-family","'Liberation Serif','DejaVu Serif','Times New Roman',serif").attr("font-style","italic")
    .attr("font-size",72).attr("fill","#000").text(angleTitle);
  // panel letter
  g.append("text").attr("x",p.letterXY[0]).attr("y",p.letterXY[1]).attr("font-family",FONT)
    .attr("font-size",70).attr("fill","#000").text(p.letter);

  // legend
  const L = p.legend;
  p.names.forEach((nm,i)=>{
    const y = L.rows[i];
    if(L.kind==="solid"){
      g.append("line").attr("x1",L.x1).attr("x2",L.x2).attr("y1",y).attr("y2",y)
        .attr("stroke",seriesColors[i]).attr("stroke-width",L.widths[i]).attr("stroke-linecap","round");
    } else {
      const span = L.x2-L.x1, dash = span*0.35, mid = (L.x1+L.x2)/2;
      g.append("line").attr("x1",L.x1).attr("x2",L.x1+dash).attr("y1",y).attr("y2",y)
        .attr("stroke",seriesColors[i]).attr("stroke-width",L.widths[i]).attr("stroke-linecap","round");
      g.append("line").attr("x1",L.x2-dash).attr("x2",L.x2).attr("y1",y).attr("y2",y)
        .attr("stroke",seriesColors[i]).attr("stroke-width",L.widths[i]).attr("stroke-linecap","round");
      g.append("circle").attr("cx",mid).attr("cy",y).attr("r",5.5).attr("fill",seriesColors[i]);
    }
    g.append("text").attr("x",L.tx).attr("y",y+0.358*L.font).attr("font-family",FONT)
      .attr("font-size",L.font).attr("fill","#000").text(nm);
  });
}
panels.forEach(drawPanel);
</script>
</body></html>
